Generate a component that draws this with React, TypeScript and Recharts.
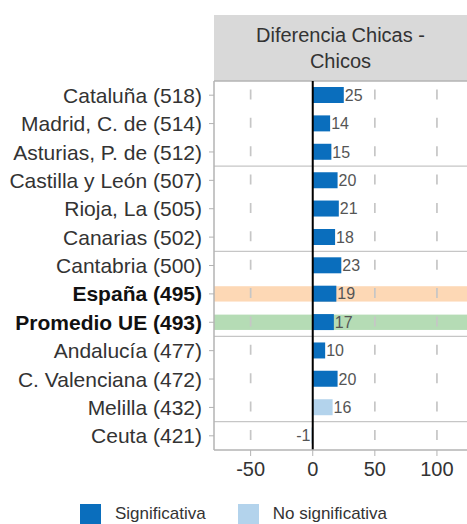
import React from 'react';
import { BarChart, Bar, XAxis, YAxis, Cell, ReferenceLine, ReferenceArea, LabelList } from 'recharts';

const categories = [
  'Cataluña (518)',
  'Madrid, C. de (514)',
  'Asturias, P. de (512)',
  'Castilla y León (507)',
  'Rioja, La (505)',
  'Canarias (502)',
  'Cantabria (500)',
  'España (495)',
  'Promedio UE (493)',
  'Andalucía (477)',
  'C. Valenciana (472)',
  'Melilla (432)',
  'Ceuta (421)',
];
const differences = [25, 14, 15, 20, 21, 18, 23, 19, 17, 10, 20, 16, -1];
const significant = [true, true, true, true, true, true, true, true, true, true, true, false, false];
const groups = [1, 1, 1, 2, 2, 2, 3, 3, 3, 4, 4, 4, 5];
const highlightRows = ['España (495)', 'Promedio UE (493)'];
const highlightColors = ['#fdd8b5', '#b5dcb5'];
const boldRows = ['España (495)', 'Promedio UE (493)'];
const xTicks = [-50, 0, 50, 100];
const xDomain = [-79.5, 124.2];
const stripTitle = ['Diferencia Chicas -', 'Chicos'];
const DARK = '#0a6ebd';
const LIGHT = '#b3d3ec';
const legendItems = [
  { label: 'Significativa', color: DARK },
  { label: 'No significativa', color: LIGHT },
];

const FONT = '"Liberation Sans", Arial, Helvetica, sans-serif';

const data = categories.map((name, i) => ({
  name,
  diff: differences[i],
  sig: significant[i],
  group: groups[i],
}));

// last category of each group (a separator is drawn below it)
const groupEnds: string[] = [];
groups.forEach((g, i) => {
  if (i < groups.length - 1 && g !== groups[i + 1]) groupEnds.push(categories[i]);
});

const YTick = (props: any) => {
  const { x, y, payload } = props;
  const bold = boldRows.includes(payload.value);
  return (
    <text
      x={x}
      y={y}
      dy="0.36em"
      textAnchor="end"
      fontSize={21}
      fontFamily={FONT}
      fontWeight={bold ? 'bold' : 'normal'}
      fill={bold ? '#111' : '#333'}
    >
      {payload.value}
    </text>
  );
};

const XTick = (props: any) => {
  const { x, y, payload } = props;
  return (
    <text x={x} y={y} dy="0.75em" textAnchor="middle" fontSize={20} fontFamily={FONT} fill="#333">
      {payload.value}
    </text>
  );
};

const renderLabel = (props: any) => {
  const { x, y, width, height, value } = props;
  const end = Number(x) + Number(width);
  const pos = Number(value) >= 0;
  return (
    <text
      x={pos ? end + 1 : end - 1}
      y={Number(y) + Number(height) / 2}
      dy="0.36em"
      textAnchor={pos ? 'start' : 'end'}
      fontSize={16}
      fontFamily={FONT}
      fill="#555"
    >
      {value}
    </text>
  );
};

const bandShape = (fill: string) => (props: any) => {
  const { x, y, width, height } = props;
  const h = Number(height) * 0.54;
  return <rect x={x} y={Number(y) + (Number(height) - h) / 2} width={width} height={h} fill={fill} />;
};

export default function App() {
  return (
    <div
      style={{
        position: 'absolute',
        left: 0,
        top: 0,
        width: 467,
        height: 524,
        background: '#fff',
        overflow: 'hidden',
        fontFamily: FONT,
      }}
    >
      <div
        style={{
          position: 'absolute',
          left: 214,
          top: 15,
          width: 253,
          height: 66,
          background: '#d9d9d9',
          color: '#333',
          fontSize: 20,
          lineHeight: '26px',
          textAlign: 'center',
          display: 'flex',
          flexDirection: 'column',
          justifyContent: 'center',
        }}
      >
        {stripTitle.map((t) => (
          <div key={t}>{t}</div>
        ))}
      </div>
      <BarChart
        width={467}
        height={500}
        data={data}
        layout="vertical"
        margin={{ top: 81, right: 0, left: 0, bottom: 0 }}
        barCategoryGap={0}
      >
        <XAxis
          type="number"
          domain={xDomain}
          ticks={xTicks}
          allowDataOverflow
          height={50}
          tickSize={6}
          tickMargin={5}
          stroke="#b3b3b3"
          tickLine={{ stroke: '#b3b3b3' }}
          axisLine={{ stroke: '#b3b3b3', strokeWidth: 1.5 }}
          tick={<XTick />}
        />
        <YAxis
          type="category"
          dataKey="name"
          width={214}
          tickSize={5}
          tickMargin={7}
          interval={0}
          tickLine={{ stroke: '#b3b3b3' }}
          axisLine={{ stroke: '#b3b3b3', strokeWidth: 1.5 }}
          tick={<YTick />}
        />
        {highlightRows.map((row, i) => (
          <ReferenceArea
            key={row}
            y1={row}
            y2={row}
            fill={highlightColors[i]}
            fillOpacity={1}
            stroke="none"
            shape={bandShape(highlightColors[i])}
          />
        ))}
        {xTicks
          .filter((t) => t !== 0)
          .map((t) => (
            <ReferenceLine
              key={t}
              x={t}
              stroke="#c6c6c6"
              strokeWidth={1.7}
              strokeDasharray="10 18.38"
              strokeDashoffset={18.38}
            />
          ))}
        {groupEnds.map((c) => (
          <ReferenceLine key={c} y={c} position="end" stroke="#c6c6c6" strokeWidth={1.3} />
        ))}
        <ReferenceLine y={categories[0]} position="start" stroke="#b3b3b3" strokeWidth={1.5} />
        <Bar dataKey="diff" barSize={16} isAnimationActive={false}>
          {data.map((d) => (
            <Cell key={d.name} fill={d.sig ? DARK : LIGHT} />
          ))}
          <LabelList dataKey="diff" content={renderLabel} />
        </Bar>
        <ReferenceLine x={0} stroke="#000" strokeWidth={2} />
      </BarChart>
      <div
        style={{
          position: 'absolute',
          left: 80,
          top: 504,
          display: 'flex',
          alignItems: 'flex-start',
          fontSize: 17,
          color: '#333',
        }}
      >
        {legendItems.map((it, i) => (
          <div key={it.label} style={{ display: 'flex', alignItems: 'flex-start', marginRight: i === 0 ? 32 : 0 }}>
            <div style={{ width: 21, height: 21, background: it.color, marginRight: 14 }} />
            <div style={{ lineHeight: '20px' }}>{it.label}</div>
          </div>
        ))}
      </div>
    </div>
  );
}
